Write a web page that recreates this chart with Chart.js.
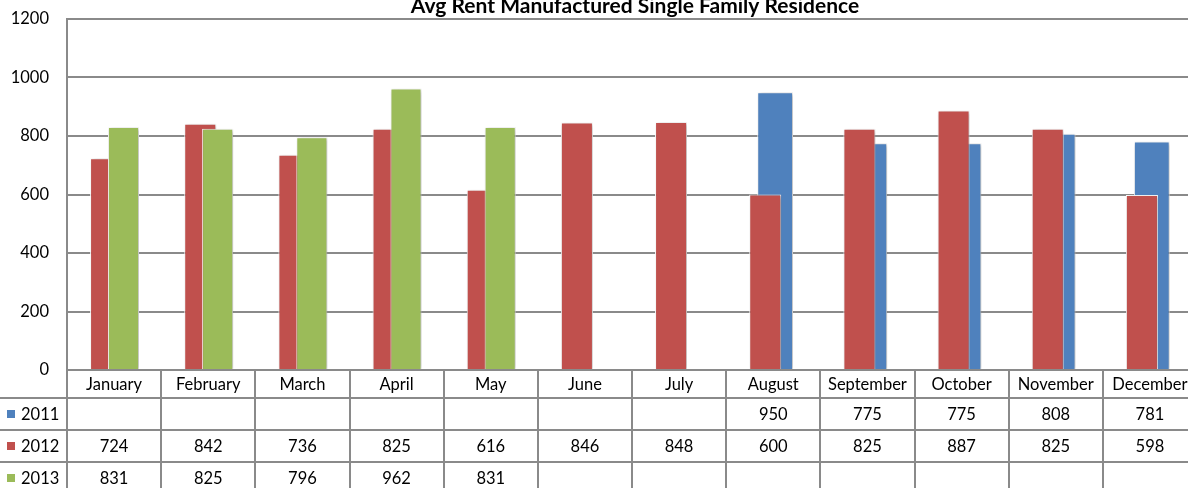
<!DOCTYPE html>
<html>
<head>
<meta charset="utf-8">
<script src="https://cdn.jsdelivr.net/npm/chart.js@4.4.0/dist/chart.umd.min.js"></script>
<style>
  html, body { margin:0; padding:0; background:#fff; overflow:hidden; }
  #wrap { width:1200px; height:488px; }
</style>
</head>
<body>
<div id="wrap"><canvas id="chartRent" width="1200" height="488"></canvas></div>
<script>
const months = ['January','February','March','April','May','June','July','August','September','October','November','December'];
const seriesNames = ['2011','2012','2013'];
const rent2011 = [null,null,null,null,null,null,null,950,775,775,808,781];
const rent2012 = [724,842,736,825,616,846,848,600,825,887,825,598];
const rent2013 = [831,825,796,962,831,null,null,null,null,null,null,null];
const yTicks = [0,200,400,600,800,1000,1200];

const BLUE = '#4F81BD', RED = '#C0504D', GREEN = '#9BBB59', GRID = '#8a8a8a';
const FONT = 'Lato, "Open Sans", sans-serif';

// shift each series sideways inside its month so the bars overlap like the excel chart
const barShift = {
  id:'barShift',
  afterDatasetsUpdate(chart){
    const x = chart.scales.x;
    const cw = x.width / months.length;
    chart.data.datasets.forEach((ds, i) => {
      chart.getDatasetMeta(i).data.forEach(el => { el.x += (ds.shift || 0) * cw; });
    });
  },
  beforeDatasetDraw(chart){
    const c = chart.ctx;
    c.save();
    c.shadowColor = 'rgba(0,0,0,0.28)';
    c.shadowBlur = 4;
    c.shadowOffsetX = 1.5;
    c.shadowOffsetY = 1;
  },
  afterDatasetDraw(chart){ chart.ctx.restore(); }
};

// data table under the plot + title
const dataTable = {
  id:'dataTable',
  afterDraw(chart){
    const c = chart.ctx, x = chart.scales.x, area = chart.chartArea;
    const cw = x.width / months.length;
    const rows = [area.bottom, 398, 430, 462, 494];
    const rowData = [rent2011, rent2012, rent2013];
    const colors = [BLUE, RED, GREEN];
    c.save();
    c.strokeStyle = GRID; c.lineWidth = 2;
    c.beginPath();
    c.moveTo(area.left, rows[0]); c.lineTo(chart.width, rows[0]);
    for (let r = 1; r < rows.length - 1; r++){ c.moveTo(0, rows[r]); c.lineTo(chart.width, rows[r]); }
    for (let i = 0; i <= months.length; i++){
      const xx = Math.round(area.left + i * cw);
      c.moveTo(xx, rows[0]); c.lineTo(xx, chart.height);
    }
    c.stroke();

    c.fillStyle = '#000';
    c.font = '16.5px ' + FONT;
    c.textAlign = 'center'; c.textBaseline = 'middle';
    months.forEach((m, i) => {
      const cx = area.left + (i + 0.5) * cw;
      c.fillText(m, cx, (rows[0] + rows[1]) / 2 + 1);
      rowData.forEach((arr, r) => {
        if (arr[i] != null) c.fillText(String(arr[i]), cx, (rows[r+1] + rows[r+2]) / 2 + 1);
      });
    });
    c.textAlign = 'left';
    seriesNames.forEach((s, r) => {
      const cy = (rows[r+1] + rows[r+2]) / 2;
      c.fillStyle = colors[r];
      c.fillRect(7, cy - 4, 8, 8);
      c.fillStyle = '#000';
      c.fillText(s, 21, cy + 1);
    });

    c.font = 'bold 21px ' + FONT;
    c.textAlign = 'center'; c.textBaseline = 'alphabetic';
    c.fillText('Avg Rent Manufactured Single Family Residence', (area.left + area.right) / 2 + 3, 13);
    c.restore();
  }
};

new Chart(document.getElementById('chartRent').getContext('2d'), {
  type:'bar',
  data:{
    labels: months,
    datasets:[
      { label:seriesNames[2], data:rent2013, backgroundColor:GREEN, order:0, barPercentage:0.33, shift:0.10 },
      { label:seriesNames[1], data:rent2012, backgroundColor:RED, order:1, barPercentage:0.34, shift:-0.085 },
      { label:seriesNames[0], data:rent2011, backgroundColor:BLUE, order:2, barPercentage:0.38, shift:0.02 }
    ].map(d => Object.assign(d, { borderColor:'#fff', borderWidth:1, categoryPercentage:1, grouped:false }))
  },
  options:{
    responsive:false,
    animation:false,
    layout:{ padding:{ top:19, bottom:118, left:0, right:3 } },
    plugins:{ legend:{ display:false }, tooltip:{ enabled:false }, title:{ display:false } },
    scales:{
      x:{ display:false },
      y:{
        min:0, max:1200,
        afterFit(s){ s.width = 67; s.paddingTop = 0; s.paddingBottom = 0; },
        afterBuildTicks(s){ s.ticks = yTicks.map(v => ({ value:v })); },
        grid:{ color:GRID, lineWidth:2, drawTicks:false },
        border:{ display:true, color:GRID, width:2 },
        ticks:{ padding:18, color:'#000', font:{ family:FONT, size:16.5 }, callback:v => String(v) }
      }
    }
  },
  plugins:[barShift, dataTable]
});
</script>
</body>
</html>
